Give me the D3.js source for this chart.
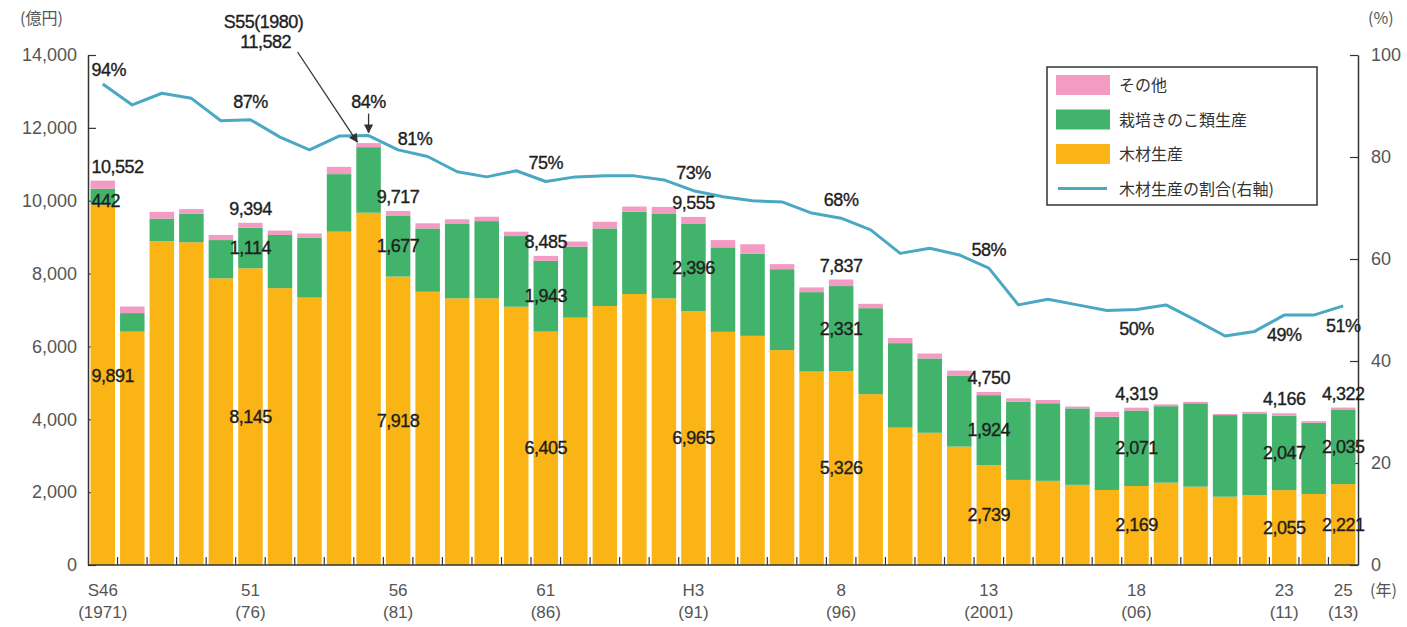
<!DOCTYPE html>
<html>
<head>
<meta charset="utf-8">
<script src="https://cdn.jsdelivr.net/npm/d3@7"></script>
<style>
  body { margin: 0; background: #fff; }
  text { font-family: "Liberation Sans", Arial, sans-serif; }
  .jp { font-family: "Noto Sans CJK JP", sans-serif; }
</style>
</head>
<body>
<div id="chart"></div>
<script>
// data (億円)
var years = [1971, 1972, 1973, 1974, 1975, 1976, 1977, 1978, 1979, 1980,
             1981, 1982, 1983, 1984, 1985, 1986, 1987, 1988, 1989, 1990,
             1991, 1992, 1993, 1994, 1995, 1996, 1997, 1998, 1999, 2000,
             2001, 2002, 2003, 2004, 2005, 2006, 2007, 2008, 2009, 2010,
             2011, 2012, 2013];
var wood = [9891, 6405, 8890, 8860, 7870, 8145, 7600, 7340, 9150, 9670,
            7918, 7500, 7320, 7320, 7090, 6405, 6790, 7110, 7440, 7320,
            6965, 6400, 6290, 5900, 5310, 5326, 4690, 3770, 3630, 3250,
            2739, 2335, 2310, 2200, 2060, 2169, 2260, 2150, 1875, 1920,
            2055, 1950, 2221];
var mushroom = [442, 510, 620, 780, 1050, 1114, 1460, 1650, 1580, 1800,
                1677, 1740, 2040, 2120, 1940, 1943, 1950, 2130, 2260, 2330,
                2396, 2320, 2250, 2220, 2180, 2331, 2360, 2320, 2040, 1940,
                1924, 2150, 2130, 2100, 2010, 2071, 2100, 2290, 2240, 2240,
                2047, 1955, 2035];
var other = [219, 180, 185, 130, 140, 135, 120, 110, 200, 112,
             122, 140, 130, 120, 120, 137, 140, 180, 140, 180,
             194, 200, 265, 140, 130, 180, 120, 140, 135, 145,
             87, 90, 90, 50, 135, 79, 50, 40, 30, 45,
             64, 45, 66];
// 木材生産の割合 (%)
var share = [94.3, 90.2, 92.5, 91.5, 87.1, 87.3, 83.9, 81.4, 84.1, 84.2,
             81.4, 80.1, 77.1, 76.1, 77.3, 75.2, 76.1, 76.3, 76.3, 75.5,
             73.4, 72.2, 71.4, 71.2, 69.0, 68.0, 65.7, 61.1, 62.1, 60.8,
             58.2, 51.0, 52.1, 51.0, 49.9, 50.1, 51.0, 48.0, 44.9, 45.8,
             49.0, 49.0, 50.8];

var tickYears = [1971, 1976, 1981, 1986, 1991, 1996, 2001, 2006, 2011, 2013];
var tickTop = ["S46", "51", "56", "61", "H3", "8", "13", "18", "23", "25"];
var tickBottom = ["(1971)", "(76)", "(81)", "(86)", "(91)", "(96)", "(2001)", "(06)", "(11)", "(13)"];

var labelYears = [1971, 1976, 1981, 1986, 1991, 1996, 2001, 2006, 2011, 2013];
var shareLabelYears = [1971, 1976, 1980, 1981, 1986, 1991, 1996, 2001, 2006, 2011, 2013];
var peakYear = 1980;

var keys = ["wood", "mushroom", "other"];
var colors = {"wood": "#fbb416", "mushroom": "#42b36b", "other": "#f49bc4"};
var lineColor = "#4aa8c2";
var legendItems = [
  {"key": "other", "label": "その他"},
  {"key": "mushroom", "label": "栽培きのこ類生産"},
  {"key": "wood", "label": "木材生産"},
  {"key": "line", "label": "木材生産の割合(右軸)"}
];

var width = 1407, height = 627;
var plot = {"left": 88, "right": 1358, "top": 55, "bottom": 565};

var svg = d3.select("#chart").append("svg")
    .attr("width", width)
    .attr("height", height);

var x = d3.scaleBand()
    .domain(years)
    .range([plot.left, plot.right])
    .paddingInner(0.17)
    .paddingOuter(0.085);
var y = d3.scaleLinear().domain([0, 14000]).range([plot.bottom, plot.top]);
var yR = d3.scaleLinear().domain([0, 100]).range([plot.bottom, plot.top]);
var cx = function(yr) { return x(yr) + x.bandwidth() / 2; };

var table = years.map(function(yr, i) {
  return {"year": yr, "wood": wood[i], "mushroom": mushroom[i], "other": other[i]};
});
var total = function(i) { return wood[i] + mushroom[i] + other[i]; };
var fmt = d3.format(",");

// axes
var yAxis = d3.axisLeft(y).tickValues(d3.range(0, 14001, 2000))
    .tickFormat(fmt).tickSize(-8).tickSizeOuter(0).tickPadding(11);
var yAxisR = d3.axisRight(yR).tickValues(d3.range(0, 101, 20))
    .tickSize(-8).tickSizeOuter(0).tickPadding(13);

function styleAxis(g) {
  g.select(".domain").attr("stroke", "#333").attr("stroke-width", 1.5);
  g.selectAll(".tick line").attr("stroke", "#333").attr("stroke-width", 1.2);
  g.selectAll(".tick text").attr("fill", "#555").style("font-size", "18px")
    .style("font-family", "'Liberation Sans', Arial, sans-serif");
}

svg.append("g").attr("transform", "translate(" + plot.left + ",0)").call(yAxis).call(styleAxis);
svg.append("g").attr("transform", "translate(" + plot.right + ",0)").call(yAxisR).call(styleAxis);

// bars
var series = d3.stack().keys(keys)(table);
svg.append("g").selectAll("g")
  .data(series)
  .enter().append("g")
  .attr("fill", function(s) { return colors[s.key]; })
  .selectAll("rect")
  .data(function(s) { return s; })
  .enter().append("rect")
  .attr("x", function(d) { return x(d.data.year); })
  .attr("width", x.bandwidth())
  .attr("y", function(d) { return y(d[1]); })
  .attr("height", function(d) { return y(d[0]) - y(d[1]); });

// bottom axis
svg.append("line")
  .attr("x1", plot.left).attr("x2", plot.right)
  .attr("y1", plot.bottom).attr("y2", plot.bottom)
  .attr("stroke", "#333").attr("stroke-width", 1.5);
svg.append("g").selectAll("line")
  .data(years.slice(1))
  .enter().append("line")
  .attr("x1", function(yr) { return x(yr) - x.step() * x.paddingInner() / 2; })
  .attr("x2", function(yr) { return x(yr) - x.step() * x.paddingInner() / 2; })
  .attr("y1", plot.bottom).attr("y2", plot.bottom - 8)
  .attr("stroke", "#333").attr("stroke-width", 1.2);

var xl = svg.append("g").attr("fill", "#555").style("font-size", "17px").attr("text-anchor", "middle");
tickYears.forEach(function(yr, i) {
  xl.append("text").attr("x", cx(yr)).attr("y", 596).text(tickTop[i]);
  xl.append("text").attr("x", cx(yr)).attr("y", 618).text(tickBottom[i]);
});
svg.append("text").attr("class", "jp").attr("x", 1370).attr("y", 596)
  .attr("fill", "#555").style("font-size", "16px").text("(年)");
svg.append("text").attr("class", "jp").attr("x", 20).attr("y", 24)
  .attr("fill", "#555").style("font-size", "16px").text("(億円)");
svg.append("text").attr("class", "jp").attr("x", 1368).attr("y", 24)
  .attr("fill", "#555").style("font-size", "16px").text("(%)");

// share line
var line = d3.line()
  .x(function(d, i) { return cx(years[i]); })
  .y(function(d) { return yR(d); });
svg.append("path")
  .datum(share)
  .attr("d", line)
  .attr("fill", "none")
  .attr("stroke", lineColor)
  .attr("stroke-width", 3)
  .attr("stroke-linejoin", "round");

// value labels
var lab = svg.append("g").attr("fill", "#1e1e1e").attr("stroke", "#1e1e1e")
  .attr("stroke-width", 0.35).style("font-size", "18px")
  .style("letter-spacing", "-0.5px");
labelYears.forEach(function(yr) {
  var i = years.indexOf(yr);
  var first = i === 0;
  var ax = first ? x(yr) + 1 : cx(yr);
  var anchor = first ? "start" : "middle";
  lab.append("text").attr("x", ax).attr("y", y(total(i)) - 8)
    .attr("text-anchor", anchor).text(fmt(total(i)));
  lab.append("text").attr("x", ax).attr("y", first ? y(wood[i] + mushroom[i]) + 18 : (y(wood[i]) + y(wood[i] + mushroom[i])) / 2 + 6)
    .attr("text-anchor", anchor).text(fmt(mushroom[i]));
  lab.append("text").attr("x", ax).attr("y", first ? y(wood[i]) / 2 + y(0) / 2 - 3 : (y(0) + y(wood[i])) / 2 + 6)
    .attr("text-anchor", anchor).text(fmt(wood[i]));
});

// share labels
shareLabelYears.forEach(function(yr) {
  var i = years.indexOf(yr);
  var px = cx(yr), py = yR(share[i]);
  var anchor = "middle", ty = py - 12;
  if (i === 0) { px = x(yr) + 1; anchor = "start"; ty = py - 8; }
  if (yr === peakYear) { ty = py - 28; }
  if (yr === 1981) { px += 17; ty = py - 5; }
  if (share[i] < 52 && yr >= 2006) { ty = py + 26; }
  lab.append("text").attr("x", px).attr("y", ty).attr("text-anchor", anchor)
    .text(Math.round(share[i]) + "%");
});

// 1980 peak annotation
var defs = svg.append("defs");
defs.append("marker").attr("id", "arrow")
  .attr("viewBox", "0 0 10 10").attr("refX", 9).attr("refY", 5)
  .attr("markerWidth", 7).attr("markerHeight", 7).attr("orient", "auto")
  .append("path").attr("d", "M0,0L10,5L0,10z").attr("fill", "#333");

var pi = years.indexOf(peakYear);
var px0 = cx(peakYear) - 105;
lab.append("text").attr("x", px0).attr("y", 28).attr("text-anchor", "middle").text("S55(1980)");
lab.append("text").attr("x", px0 + 2).attr("y", 48).attr("text-anchor", "middle").text(fmt(total(pi)));
svg.append("line")
  .attr("x1", px0 + 34).attr("y1", 52)
  .attr("x2", x(peakYear) + 1).attr("y2", y(total(pi)) - 1)
  .attr("stroke", "#333").attr("stroke-width", 1.3)
  .attr("marker-end", "url(#arrow)");
svg.append("line")
  .attr("x1", cx(peakYear)).attr("y1", yR(share[pi]) - 22)
  .attr("x2", cx(peakYear)).attr("y2", yR(share[pi]) - 3)
  .attr("stroke", "#333").attr("stroke-width", 1.3)
  .attr("marker-end", "url(#arrow)");

// legend
var lg = svg.append("g").attr("transform", "translate(1047,67)");
lg.append("rect").attr("width", 270).attr("height", 138)
  .attr("fill", "#fff").attr("stroke", "#333").attr("stroke-width", 1.5);
legendItems.forEach(function(d, i) {
  var ly = 18 + i * 34.5;
  if (d.key === "line") {
    lg.append("line").attr("x1", 11).attr("x2", 60).attr("y1", ly).attr("y2", ly)
      .attr("stroke", lineColor).attr("stroke-width", 3);
  } else {
    lg.append("rect").attr("x", 9).attr("y", ly - 10).attr("width", 54).attr("height", 20)
      .attr("fill", colors[d.key]);
  }
  lg.append("text").attr("class", "jp").attr("x", 72).attr("y", ly + 6)
    .attr("fill", "#333").style("font-size", "16px").text(d.label);
});
</script>
</body>
</html>
